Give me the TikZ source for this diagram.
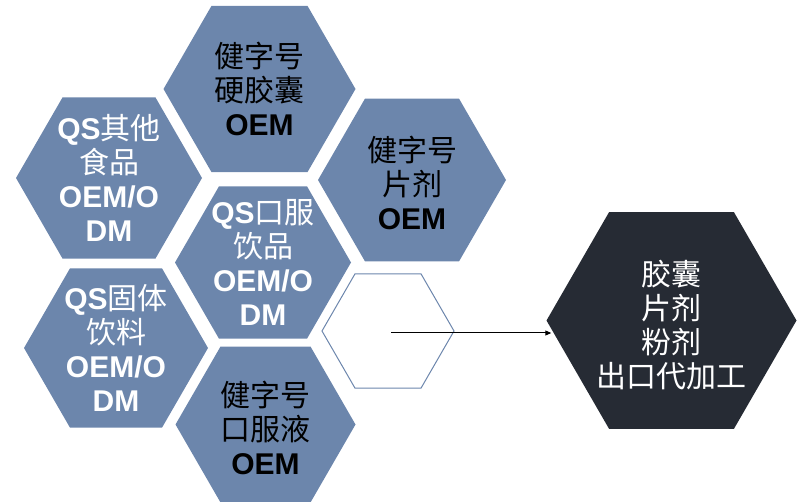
\documentclass[tikz,border=0pt]{standalone}
\usepackage{fontspec}
\setmainfont{Liberation Sans}
\newfontfamily\cjk{Noto Sans CJK SC}
\usetikzlibrary{shapes.geometric,arrows.meta}
\definecolor{hexblue}{RGB}{108,134,172}
\definecolor{hexdark}{RGB}{38,43,52}
\newcommand{\zh}[1]{{\cjk #1}}

\begin{document}
\begin{tikzpicture}[x=1pt,y=-1pt,
 hexa/.style={regular polygon,regular polygon sides=6,inner sep=0pt},
 txt/.style={align=center,font=\fontsize{30}{34}\selectfont}]
\useasboundingbox (0,0) rectangle (800,502);

% blue hexagons
\node [hexa,fill=hexblue,minimum size=192pt] (yjn) at (259.5,89) {};
\node [hexa,fill=hexblue,minimum size=186pt] (qsqt) at (109,178) {};
\node [hexa,fill=hexblue,minimum size=188pt] (pj) at (412,180) {};
\node [hexa,fill=hexblue,minimum size=176pt] (qsyp) at (263,262.5) {};
\node [hexa,fill=hexblue,minimum size=184pt] (qsyl) at (116,348) {};
\node [hexa,draw=hexblue,line width=1pt,minimum size=132pt] (empty) at (388,331) {};
\node [hexa,fill=hexblue,minimum size=180pt] (kfy) at (265.5,424.5) {};
\node [hexa,fill=hexdark,minimum size=250pt] (ck) at (671.5,320.5) {};

\node [txt] (t1) at (yjn) {\zh{健字号}\\\zh{硬胶囊}\\\textbf{OEM}};
\node [txt,text=white] (t2) at (qsqt) {\textbf{QS}\zh{其他}\\\zh{食品}\\\textbf{OEM/O}\\\textbf{DM}};
\node [txt] (t3) at (412,183) {\zh{健字号}\\\zh{片剂}\\\textbf{OEM}};
\node [txt,text=white] (t4) at (qsyp) {\textbf{QS}\zh{口服}\\\zh{饮品}\\\textbf{OEM/O}\\\textbf{DM}};
\node [txt,text=white] (t5) at (qsyl) {\textbf{QS}\zh{固体}\\\zh{饮料}\\\textbf{OEM/O}\\\textbf{DM}};
\node [txt] (t7) at (265.5,428) {\zh{健字号}\\\zh{口服液}\\\textbf{OEM}};
\node [txt,text=white] (t8) at (671.5,325) {\zh{胶囊}\\\zh{片剂}\\\zh{粉剂}\\\zh{出口代加工}};

\coordinate (s) at (391,333);
\draw [-{Triangle[length=6pt,width=5pt]},line width=1pt,shorten >=-5pt] (s) -- (s -| ck.west);
\end{tikzpicture}
\end{document}
